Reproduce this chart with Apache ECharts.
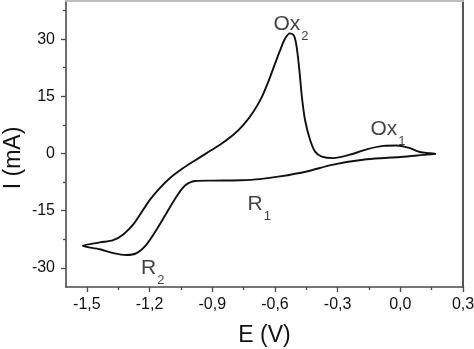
<!DOCTYPE html>
<html>
<head>
<meta charset="utf-8">
<script src="https://cdn.jsdelivr.net/npm/echarts@6/dist/echarts.min.js"></script>
<style>
  html, body { margin: 0; padding: 0; background: #fff; }
  #chart { width: 474px; height: 349px; }
</style>
</head>
<body>
<div id="chart"></div>
<script>
// Cyclic voltammogram: cathodic sweep (0.17 V -> -1.52 V), then anodic return sweep.
const cathodicE = [0.171, 0.126, 0.0, -0.161, -0.321, -0.448, -0.576, -0.672, -0.767, -0.896, -0.983, -1.030, -1.070, -1.118, -1.166, -1.214, -1.262, -1.310, -1.374, -1.437, -1.520];
const cathodicI = [-0.1, -0.3, -0.9, -1.5, -2.9, -4.7, -6.0, -6.7, -7.0, -7.1, -7.2, -8.4, -11.2, -15.5, -19.9, -23.8, -26.1, -26.6, -26.1, -25.1, -24.2];

const anodicE = [-1.437, -1.374, -1.326, -1.278, -1.230, -1.198, -1.150, -1.102, -1.039, -0.991, -0.927, -0.863, -0.799, -0.751, -0.704, -0.663, -0.632, -0.600, -0.576, -0.552, -0.528, -0.509, -0.496, -0.483, -0.471, -0.456, -0.432, -0.408, -0.376, -0.321, -0.241, -0.161, -0.081, -0.017, 0.046, 0.094, 0.142, 0.171];
const anodicI = [-23.3, -22.7, -21.2, -18.6, -14.7, -12.1, -9.0, -6.4, -3.8, -2.1, 0.1, 2.3, 4.9, 7.5, 10.9, 14.8, 18.8, 23.5, 27.0, 30.1, 31.5, 30.9, 27.9, 21.8, 14.8, 8.8, 3.6, 0.5, -0.8, -1.2, -0.3, 1.1, 2.0, 2.1, 1.4, 0.4, 0.1, -0.1];

// Axis ticks
const xMajor = [-1.5, -1.2, -0.9, -0.6, -0.3, 0.0, 0.3];
const xMinor = [-1.35, -1.05, -0.75, -0.45, -0.15, 0.15];
const yMajor = [-30, -15, 0, 15, 30];
const yMinor = [-22.5, -7.5, 7.5, 22.5, 37.5];

// Peak annotations
const peakNames = ['Ox', 'Ox', 'R', 'R'];
const peakSubs = ['2', '1', '1', '2'];
const peakE = [-0.523, -0.059, -0.675, -1.185];
const peakI = [33.8, 6.3, -13.3, -30.2];

const FONT = 'Arial, "Liberation Sans", sans-serif';
const AXIS_COLOR = '#4a4a4a';
const TEXT_COLOR = '#111';

const loop = [];
cathodicE.forEach((e, i) => loop.push([e, cathodicI[i]]));
anodicE.forEach((e, i) => loop.push([e, anodicI[i]]));

const notes = peakE.map((e, i) => ({ value: [e, peakI[i]], main: peakNames[i], sub: peakSubs[i] }));

const fmtComma = v => {
  const r = Math.round(v * 10) / 10;
  return r.toFixed(1).replace('.', ',');
};

const chart = echarts.init(document.getElementById('chart'), null, { renderer: 'canvas' });
chart.setOption({
  animation: false,
  backgroundColor: '#fff',
  grid: { left: 66, right: 11, top: 1, bottom: 62, containLabel: false, outerBoundsMode: 'none' },
  xAxis: [
    {
      type: 'value', min: -1.6, max: 0.3, position: 'bottom',
      name: 'E (V)', nameLocation: 'middle', nameGap: 37, nameMoveOverlap: false,
      nameTextStyle: { fontFamily: FONT, fontSize: 23, color: TEXT_COLOR },
      axisLine: { onZero: false, lineStyle: { color: AXIS_COLOR, width: 1.6 } },
      axisTick: { show: true, inside: false, length: 5, customValues: xMajor, lineStyle: { color: AXIS_COLOR, width: 1.3 } },
      axisLabel: { customValues: xMajor, margin: 10, fontFamily: FONT, fontSize: 16, color: TEXT_COLOR, formatter: fmtComma },
      splitLine: { show: false }
    },
    {
      type: 'value', min: -1.6, max: 0.3, position: 'bottom',
      axisLine: { show: false, onZero: false },
      axisTick: { show: true, inside: false, length: 3, customValues: xMinor, lineStyle: { color: AXIS_COLOR, width: 1.3 } },
      axisLabel: { show: false },
      splitLine: { show: false }
    },
    {
      type: 'value', min: -1.6, max: 0.3, position: 'top',
      axisLine: { show: true, onZero: false, lineStyle: { color: '#bdbdbd', width: 2 } },
      axisTick: { show: false }, axisLabel: { show: false }, splitLine: { show: false }
    }
  ],
  yAxis: [
    {
      type: 'value', min: -35, max: 40, position: 'left',
      name: 'I (mA)', nameLocation: 'middle', nameGap: 41, nameRotate: 90, nameMoveOverlap: false,
      nameTextStyle: { fontFamily: FONT, fontSize: 23, color: TEXT_COLOR, padding: [0, 28, 0, 0] },
      axisLine: { show: true, onZero: false, lineStyle: { color: AXIS_COLOR, width: 1.6 } },
      axisTick: { show: true, inside: false, length: 5, customValues: yMajor, lineStyle: { color: AXIS_COLOR, width: 1.3 } },
      axisLabel: { customValues: yMajor, margin: 11, fontFamily: FONT, fontSize: 16, color: TEXT_COLOR },
      splitLine: { show: false }
    },
    {
      type: 'value', min: -35, max: 40, position: 'left',
      axisLine: { show: false, onZero: false },
      axisTick: { show: true, inside: false, length: 3, customValues: yMinor, lineStyle: { color: AXIS_COLOR, width: 1.3 } },
      axisLabel: { show: false },
      splitLine: { show: false }
    },
    {
      type: 'value', min: -35, max: 40, position: 'right',
      axisLine: { show: true, onZero: false, lineStyle: { color: '#555', width: 2 } },
      axisTick: { show: false }, axisLabel: { show: false }, splitLine: { show: false }
    }
  ],
  series: [
    {
      type: 'line', xAxisIndex: 0, yAxisIndex: 0,
      data: loop, showSymbol: false, smooth: 0.3,
      lineStyle: { color: '#111', width: 1.9 },
      silent: true
    },
    {
      type: 'scatter', xAxisIndex: 0, yAxisIndex: 0,
      data: notes, symbolSize: 0, silent: true,
      label: {
        show: true, position: 'inside',
        formatter: p => '{m|' + p.data.main + '}{s|' + p.data.sub + '}',
        rich: {
          m: { fontFamily: FONT, fontSize: 21, lineHeight: 21, color: TEXT_COLOR, verticalAlign: 'top' },
          s: { fontFamily: FONT, fontSize: 13, lineHeight: 13, color: TEXT_COLOR, verticalAlign: 'top', padding: [16, 0, 0, 1] }
        }
      }
    }
  ]
});
</script>
</body>
</html>
